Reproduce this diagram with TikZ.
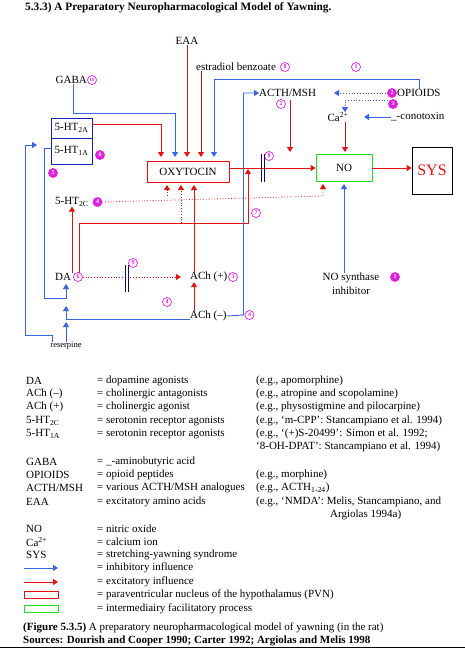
\documentclass[tikz,border=0pt]{standalone}
\usepackage{fontspec}
\setmainfont{Liberation Serif}
\usetikzlibrary{arrows.meta}
\definecolor{myred}{HTML}{E41212}
\definecolor{dkred}{HTML}{B41A1A}
\definecolor{myblue}{HTML}{3A64E0}
\definecolor{boxblue}{HTML}{1424B4}
\definecolor{mymag}{HTML}{E020E0}
\definecolor{mygreen}{HTML}{22E022}
\definecolor{navyc}{HTML}{10105A}
\tikzset{
  lbl/.style={font=\fontsize{11}{13}\selectfont, inner sep=0pt},
  leg/.style={font=\fontsize{11}{13}\selectfont, inner sep=0pt, anchor=west},
  tip/.style={-{Triangle[length=5pt,width=6pt]}},
  inh/.style={draw=myblue, line width=0.8pt, tip, color=myblue},
  exc/.style={draw=myred, line width=0.8pt, tip, color=myred},
  excd/.style={draw=dkred, line width=0.8pt, -{Triangle[length=5pt,width=6pt,color=myred]}},
  excdot/.style={exc, dotted},
  inhdot/.style={inh, dotted},
  cnum/.style={circle, draw=mymag, text=mymag, line width=0.7pt, inner sep=0pt, minimum size=9pt, font=\fontsize{6}{6}\selectfont\bfseries},
  cnumf/.style={cnum, fill=mymag, text=white},
  bar/.style={draw=navyc, line width=0.8pt},
}
\begin{document}
\begin{tikzpicture}[x=1pt,y=-1pt]
\useasboundingbox (0,0) rectangle (465,648);
% title
\node[leg, font=\fontsize{11.3}{13}\selectfont\bfseries] (title) at (25,8) {5.3.3) A Preparatory Neuropharmacological Model of Yawning.};
% top labels
\node[lbl] (eaa) at (187,41) {EAA};
\node[leg] (estr) at (196,67) {estradiol benzoate};
\node[cnum] (n8a) at (285,67) {8};
\node[cnum] (n1) at (356,67) {1};
\node[lbl, anchor=east] (gaba) at (87,80) {GABA};
\node[cnum, font=\fontsize{4.8}{4.8}\selectfont\bfseries] (n10) at (92,80) {10};
\node[leg] (acth) at (259,93) {ACTH/MSH};
\node[cnum] (n2a) at (281,104) {2};
\node[cnumf] (n2b) at (392,93) {2};
\node[leg] (opi) at (397,93) {OPIOIDS};
\node[cnumf] (n3a) at (393,104) {3};
\node[lbl] (ca) at (338,117) {Ca\textsuperscript{2+}};
\node[leg] (cono) at (391,117) {\_-conotoxin};
% boxes
\node[draw=myred, line width=0.8pt, minimum width=82pt, minimum height=21pt, lbl] (oxy) at (188,171.5) {OXYTOCIN};
\node[draw=mygreen, line width=0.8pt, minimum width=56pt, minimum height=27pt, lbl] (no) at (344,167.5) {\raisebox{-4pt}{NO}};
\node[draw=black, line width=0.8pt, minimum width=40pt, minimum height=47pt, text=myred, inner sep=0pt, font=\fontsize{16}{16}\selectfont] (sys) at (432,170.5) {SYS};
\node[draw=boxblue, line width=0.8pt, minimum width=41pt, minimum height=20pt, lbl] (ht2a) at (71.5,128) {5-HT\textsubscript{2A}};
\node[draw=boxblue, line width=0.8pt, minimum width=41pt, minimum height=26pt, lbl] (ht1a) at (71.5,151) {5-HT\textsubscript{1A}};
\node[cnumf] (n6a) at (100,155) {6};
\node[cnumf] (n5) at (53,173) {5};
\node[leg] (ht2c) at (55,202) {5-HT\textsubscript{2C}};
\node[cnumf] (n4a) at (97.5,202) {4};
\node[leg] (da) at (55,277) {DA};
\node[cnum] (n6b) at (78,277) {6};
\node[leg] (achp) at (190,277) {ACh (+)};
\node[cnum] (n3b) at (233,277) {3};
\node[cnum] (n9) at (133,263) {9};
\node[cnum] (n4b) at (167,302) {4};
\node[leg] (achm) at (190,316) {ACh (--)};
\node[cnum] (n4c) at (249.5,315) {4};
\node[cnum] (n7) at (256,213) {7};
\node[cnum] (n8b) at (269,156) {8};
\node[lbl, font=\fontsize{8.5}{10}\selectfont] (res) at (66,346) {reserpine};
\node[lbl, align=center] (nos) at (351,284) {NO synthase\\[1pt]inhibitor};
\node[cnumf] (n1b) at (395,277) {1};

% coordinates
\coordinate (tA) at (161,157);
\coordinate (tGABA) at (175,157);
\coordinate (tEAA) at (187,157);
\coordinate (tEST) at (201,157);
\coordinate (tOP) at (214,157);
\coordinate (bDot1) at (167,185);
\coordinate (bDot2) at (181,185);
\coordinate (bACh) at (194,185);
\coordinate (tNOtop1) at (290,152);
\coordinate (tNOtop2) at (345,152);
\coordinate (tNOb1) at (323,184);
\coordinate (tNOb2) at (344,184);
\coordinate (tLine) at (248,169);
\coordinate (tDA1) at (66,284);
\coordinate (tDA2) at (66,306);
\coordinate (tDA3) at (66,322);
\coordinate (tAChp) at (181,277);

% excitatory into oxytocin
\draw[exc] (ht2a.east |- 0,124) -- (161,124) -- (tA);
\draw[excd] (eaa.south) -- (tEAA);
\draw[excd] ([xshift=5pt]estr.south west) -- (tEST);
% inhibitory into oxytocin
\draw[inh] ([xshift=-14pt]gaba.south east) -- (73,113) -- (175,113) -- (tGABA);
\draw[inh] ([xshift=22pt]opi.north west) -- (419,79) -- (214,79) -- (tOP);
% ACTH -> NO line
\draw[excd] (290,100) -- (tNOtop1);
% opioids dotted
\draw[inhdot] (386,93) -- (acth.east -| 334,0);
\draw[inhdot] (388,100) -- (345,100) -- (ca.north -| 345,0);
\draw[inh] (cono.west) -- (ca.east -| 364,0);
\draw[excd] (ca.south -| 345,0) -- (tNOtop2);
% oxytocin -> NO -> SYS
\draw[exc] (oxy.east |- 0,168) -- (no.west |- 0,168);
\draw[exc] (no.east |- 0,168) -- (sys.west |- 0,168);
\draw[bar] (261,154) -- (261,182) (264,154) -- (264,182);
% DA lines
\draw[exc] ([xshift=17pt]da.north west) -- ([xshift=17pt]ht2c.south west);
\draw[exc] ([xshift=24pt]da.north west) -- (79,223) -- (248,223) -- (tLine);
% 5-HT2C dotted
\draw[excdot] (n4a.east) -- (323,196) -- (tNOb1);
\draw[excdot] (167,196) -- (bDot1);
\draw[excdot] (181,223) -- (bDot2);
% ACh(+) -> oxytocin
\draw[exc] ([xshift=4pt]achp.north west) -- (bACh);
\draw[exc] ([xshift=4pt]achm.north west) -- ([xshift=4pt]achp.south west);
% DA -> ACh(+) dotted
\draw[excdot] (n6b.east) -- (tAChp);
\draw[bar] (125,265) -- (125,292) (128,265) -- (128,292);
% NO synthase inhibitor
\draw[inh] (nos.north -| 344,0) -- (tNOb2);
% ACh(-) -> ACTH
\draw[inh, line width=0.9pt] (achm.east) -- (243.5,315) -- (243.5,93) -- (acth.west);
% ACh(-) -> DA
\draw[inh] (achm.west |- 0,319) -- (66,319) -- (tDA2);
% 5-HT1A -> DA
\draw[inh] (ht1a.west |- 0,148) -- (44,148) -- (44,298) -- (66,298) -- (tDA1);
% reserpine
\draw[inh] (res.north) -- (tDA3);
\draw[inh] (res.north -| 52,0) -- (52,335) -- (25,335) -- (25,145) -- (37,145);

% legend
\node[leg] (k1) at (26,381) {DA};
\node[leg] (k1b) at (97,381) {= dopamine agonists};
\node[leg] (k1c) at (256,381) {(e.g., apomorphine)};
\node[leg] (k2) at (26,394) {ACh (--)};
\node[leg] (k2b) at (97,394) {= cholinergic antagonists};
\node[leg] (k2c) at (256,394) {(e.g., atropine and scopolamine)};
\node[leg] (k3) at (26,407) {ACh (+)};
\node[leg] (k3b) at (97,407) {= cholinergic agonist};
\node[leg] (k3c) at (256,407) {(e.g., physostigmine and pilocarpine)};
\node[leg] (k4) at (26,421) {5-HT\textsubscript{2C}};
\node[leg] (k4b) at (97,421) {= serotonin receptor agonists};
\node[leg] (k4c) at (256,421) {(e.g., ‘m-CPP’: Stancampiano et al. 1994)};
\node[leg] (k5) at (26,434) {5-HT\textsubscript{1A}};
\node[leg] (k5b) at (97,434) {= serotonin receptor agonists};
\node[leg] (k5c) at (256,434) {(e.g., ‘(+)S-20499’: Simon et al. 1992;};
\node[leg] (k5d) at (256,447) {‘8-OH-DPAT’: Stancampiano et al. 1994)};
\node[leg] (k6) at (26,462) {GABA};
\node[leg] (k6b) at (97,462) {= \_-aminobutyric acid};
\node[leg] (k7) at (26,475) {OPIOIDS};
\node[leg] (k7b) at (97,475) {= opioid peptides};
\node[leg] (k7c) at (256,475) {(e.g., morphine)};
\node[leg] (k8) at (26,488) {ACTH/MSH};
\node[leg] (k8b) at (97,488) {= various ACTH/MSH analogues};
\node[leg] (k8c) at (256,488) {(e.g., ACTH\textsubscript{1-24})};
\node[leg] (k9) at (26,502) {EAA};
\node[leg] (k9b) at (97,502) {= excitatory amino acids};
\node[leg] (k9c) at (256,502) {(e.g., ‘NMDA’: Melis, Stancampiano, and};
\node[leg] (k9d) at (330,515) {Argiolas 1994a)};
\node[leg] (k10) at (26,529) {NO};
\node[leg] (k10b) at (97,529) {= nitric oxide};
\node[leg] (k11) at (26,542) {Ca\textsuperscript{2+}};
\node[leg] (k11b) at (97,542) {= calcium ion};
\node[leg] (k12) at (26,555) {SYS};
\node[leg] (k12b) at (97,555) {= stretching-yawning syndrome};
\coordinate (kb1) at (24,568);
\coordinate (kb2) at (58,568);
\draw[inh] (kb1) -- (kb2);
\node[leg] (k13b) at (97,568) {= inhibitory influence};
\coordinate (kr1) at (24,582);
\coordinate (kr2) at (58,582);
\draw[exc] (kr1) -- (kr2);
\node[leg] (k14b) at (97,582) {= excitatory influence};
\node[draw=myred, line width=0.8pt, minimum width=34pt, minimum height=7pt, inner sep=0pt] (k15) at (41,595) {};
\node[leg] (k15b) at (97,595) {= paraventricular nucleus of the hypothalamus (PVN)};
\node[draw=mygreen, line width=0.8pt, minimum width=34pt, minimum height=7pt, inner sep=0pt] (k16) at (41,609) {};
\node[leg] (k16b) at (97,609) {= intermediairy facilitatory process};
\node[leg] (cap) at (23,628) {\textbf{(Figure 5.3.5)} A preparatory neuropharmacological model of yawning (in the rat)};
\node[leg] (src) at (23,641) {\textbf{Sources: Dourish and Cooper 1990; Carter 1992; Argiolas and Melis 1998}};
\coordinate (bl1) at (0,647.5);
\coordinate (bl2) at (465,647.5);
\draw[line width=1pt] (bl1) -- (bl2);
\end{tikzpicture}
\end{document}
